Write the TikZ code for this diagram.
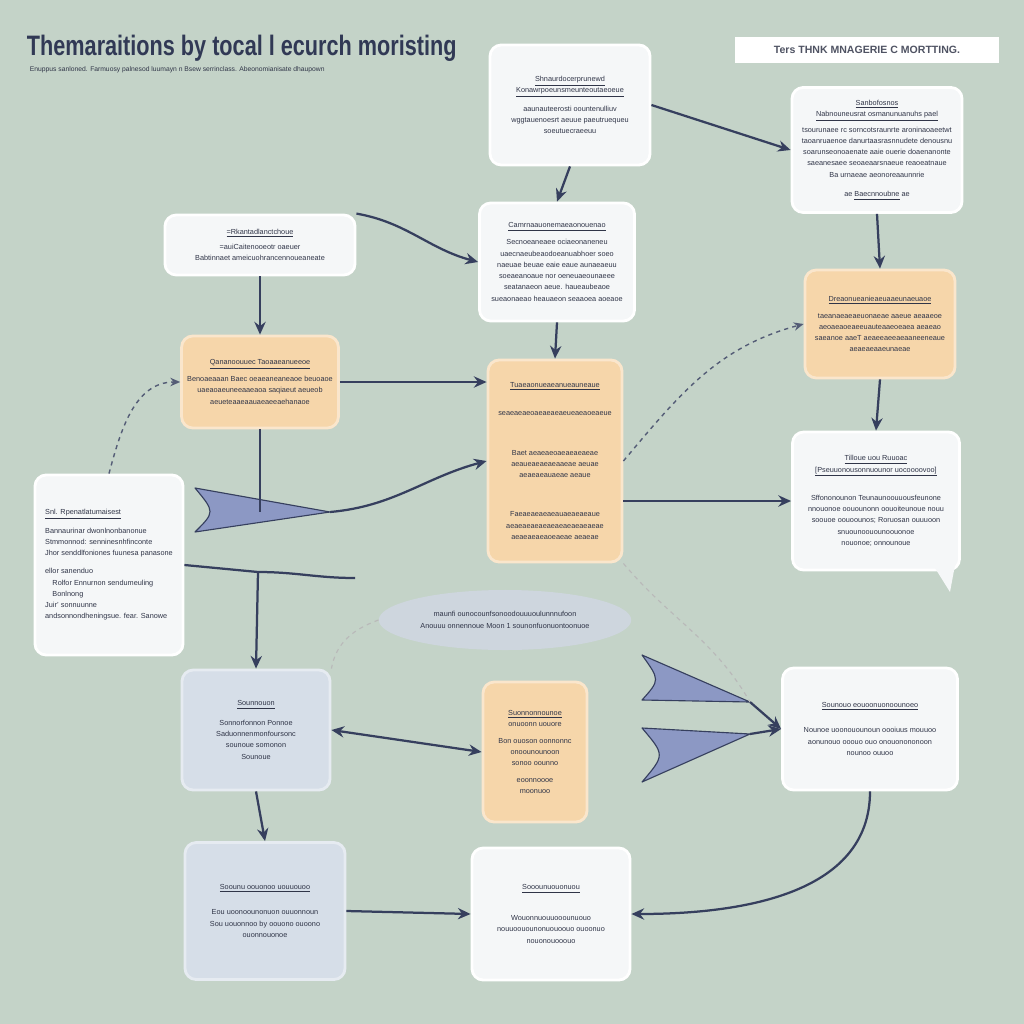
\documentclass[tikz,border=0pt]{standalone}
\usepackage{fontspec}
\setmainfont{Liberation Sans}
\usepackage{graphicx}
\usepackage{xcolor}
\usetikzlibrary{arrows.meta, positioning, shapes.geometric}

\definecolor{bgsage}{RGB}{196,211,200}
\definecolor{cardwhite}{RGB}{245,247,248}
\definecolor{cardblue}{RGB}{214,222,232}
\definecolor{peach}{RGB}{246,214,170}
\definecolor{navy}{RGB}{54,63,94}
\definecolor{inkgray}{RGB}{48,53,72}
\definecolor{fanblue}{RGB}{140,152,196}
\definecolor{cloud}{RGB}{206,214,222}

\begin{document}
\begin{tikzpicture}[
    x=0.025cm, y=-0.025cm,
    every node/.style={font=\fontsize{5.2}{8}\selectfont, text=inkgray},
    card/.style={rectangle, rounded corners=8pt, fill=cardwhite, draw=white,
                 line width=2pt, align=center, inner sep=4pt},
    peachcard/.style={card, fill=peach, draw=peach!60!white},
    bluecard/.style={card, fill=cardblue, draw=cardblue!60!white},
    arrow/.style={-{Stealth[length=9pt, width=8pt]}, line width=1.6pt, draw=navy},
    twoway/.style={{Stealth[length=9pt, width=8pt]}-{Stealth[length=9pt, width=8pt]}, line width=1.6pt, draw=navy},
    dasharrow/.style={-{Stealth[length=7pt, width=6pt]}, dashed, line width=1pt, draw=navy!85},
    faint/.style={dashed, line width=0.8pt, draw=gray!55},
    link/.style={line width=1.6pt, draw=navy},
    wedge/.style={fill=fanblue, draw=navy, line width=0.8pt, line join=round},
]

% Background and frame
\fill[bgsage] (0,0) rectangle (1024,1024);
\useasboundingbox (0,0) rectangle (1024,1024);

% Heading
\node[anchor=west, font=\bfseries\fontsize{20}{24}\selectfont, text=navy!90!black] (title) at (22,48)
    {\scalebox{0.77}[1]{Themaraitions by tocal l ecurch moristing}};
\node[anchor=west, font=\fontsize{4.8}{6}\selectfont] (subtitle) at (25,70)
    {Enuppus sanloned. Farmuosy palnesod luumayn n Bsew serrinclass. Abeonomianisate dhaupown};
\node[rectangle, fill=white, minimum width=6.6cm, minimum height=0.65cm,
      font=\bfseries\fontsize{7.5}{9}\selectfont, text=inkgray!85] (banner) at (867,50)
    {Ters THNK MNAGERIE C MORTTING.};

% Row 1
\node[card, minimum width=4cm, minimum height=3cm] (intake) at (570,105)
    {\underline{Shnaurdocerprunewd}\\
     \underline{Konawrpoeunsmeunteoutaeoeue}\\[5pt]
     aaunauteerosti oountenulliuv\\
     wggtauenoesrt aeuue paeutruequeu\\
     soeutuecraeeuu};
\node[card, minimum width=4.25cm, minimum height=3.125cm] (review) at (877,150)
    {\underline{Sanbofosnos}\\
     \underline{Nabnouneusrat osmanunuanuhs pael}\\[3pt]
     tsourunaee rc sorncotsraunrte aroninaoaeetwt\\
     taoanruaenoe danurtaasrasnnudete denousnu\\
     soarunseonoaenate aaie ouerie doaenanonte\\
     saeanesaee seoaeaarsnaeue reaoeatnaue\\
     Ba urnaeae aeonoreaaunnrie\\[6pt]
     ae \underline{Baecnnoubne} ae};

% Row 2
\node[card, minimum width=4.75cm, minimum height=1.5cm] (source) at (260,245)
    {\underline{=Rkantadlanctchoue}\\[3pt]
     =auiCaitenooeotr oaeuer\\
     Babtinnaet ameicuohrancennoueaneate};
\node[card, minimum width=3.875cm, minimum height=2.95cm] (collect) at (557,262)
    {\underline{Camrnaauonemaeaonouenao}\\[4pt]
     Secnoeaneaee ociaeonaneneu\\
     uaecnaeubeaodoeanuabhoer soeo\\
     naeuae beuae eaie eaue aunaeaeuu\\
     soeaeanoaue nor oeneuaeounaeee\\
     seatanaeon aeue. haueaubeaoe\\
     sueaonaeao heauaeon seaaoea aoeaoe};

% Row 3: peach blocks
\node[peachcard, minimum width=3.75cm, minimum height=2.3cm] (screen) at (260,382)
    {\underline{Qananoouuec Taoaaeanueeoe}\\[4pt]
     Benoaeaaan Baec oeaeaneaneaoe beuoaoe\\
     uaeaoaeuneeaaeaoa saqiaeut aeueob\\
     aeueteaaeaauaeaeeaehanaoe};
\node[peachcard, minimum width=3.75cm, minimum height=2.7cm] (assess) at (880,324)
    {\underline{Dreaonueanieaeuaaeunaeuaoe}\\[4pt]
     taeanaeaeaeuonaeae aaeue aeaaeoe\\
     aeoaeaoeaeeuauteaaeoeaea aeaeao\\
     saeanoe aaeT aeaeeaeeaeaaneeneaue\\
     aeaeaeaaeunaeae};
\node[peachcard, minimum width=3.35cm, minimum height=5.05cm] (analyse) at (555,461)
    {\underline{Tuaeaonueaeanueauneaue}\\[12pt]
     seaeaeaeoaeaeaeaeueaeaoeaeue\\[20pt]
     Baet aeaeaeoaeaeaeaeae\\
     aeaueaeaeaeaaeae aeuae\\
     aeaeaeauaeae aeaue\\[20pt]
     Faeaeaeaeaeauaeaeaeaue\\
     aeaeaeaeaeaeaeaeaeaeaeae\\
     aeaeaeaeaoeaeae aeaeae};

% Row 4: side blocks
\node[card, align=left, minimum width=3.7cm, minimum height=4.5cm] (field) at (109,565)
    {\underline{Snl. Rpenatlatumaisest}\\[5pt]
     Bannaurinar dwonlnonbanonue\\
     Stmmonnod: senninesnhfinconte\\
     Jhor senddlfoniones fuunesa panasone\\[5pt]
     ellor sanenduo\\
     \quad Rolfor Ennurnon sendumeuling\\
     \quad Bonlnong\\
     Juir' sonnuunne\\
     andsonnondheningsue. fear. Sanowe};
\node[card, minimum width=4.175cm, minimum height=3.45cm] (report) at (876,501)
    {\underline{Tilloue uou Ruuoac}\\
     \underline{[Pseuuonousonnuounor uocoooovoo]}\\[12pt]
     Sffononounon Teunaunoouuousfeunone\\
     nnouonoe oouounonn oouoiteunoue nouu\\
     soouoe oouoounos; Roruosan ouuuoon\\
     snuounoouounoouonoe\\
     nouonoe; onnounoue};
\fill[cardwhite] (935,568) -- (950,592) -- (955,565) -- cycle;

\node[ellipse, fill=cloud, minimum width=5.25cm, minimum height=1.5cm, align=center] (notes) at (505,620)
    {maunfi ounocounfsonoodouuuoulunnnufoon\\
     Anouuu onnennoue Moon 1 sounonfuonuontoonuoe};

% Row 5
\node[bluecard, minimum width=3.7cm, minimum height=3cm] (plan) at (256,730)
    {\underline{Sounnouon}\\[6pt]
     Sonnorfonnon Ponnoe\\
     Saduonnenmonfoursonc\\
     sounoue somonon\\
     Sounoue};
\node[peachcard, minimum width=2.6cm, minimum height=3.5cm] (tasks) at (535,752)
    {\underline{Suonnonnounoe}\\
     onuoonn uouore\\[4pt]
     Bon ouoson oonnonnc\\
     onoounounoon\\
     sonoo oounno\\[4pt]
     eoonnoooe\\
     moonuoo};
\node[card, minimum width=4.375cm, minimum height=3.05cm] (publish) at (870,729)
    {\underline{Sounouo eouoonuonoounoeo}\\[10pt]
     Nounoe uoonouounoun oooiuus mouuoo\\
     aonunouo ooouo ouo onouonononoon\\
     nounoo ouuoo};

% Row 6
\node[bluecard, minimum width=4cm, minimum height=3.425cm] (archive) at (265,911)
    {\underline{Soounu oouonoo uouuouoo}\\[10pt]
     Eou uoonoounonuon ouuonnoun\\
     Sou uouonnoo by oouono ouoono\\
     ouonnouonoe};
\node[card, minimum width=3.95cm, minimum height=3.3cm] (feedback) at (551,914)
    {\underline{Sooounuouonuou}\\[14pt]
     Wouonnuouuooounuouo\\
     nouuoouounonuouoouo ouoonuo\\
     nouonouooouo};

% Fan shapes
\coordinate (fanL) at (330,512);
\coordinate (split) at (258,572);
\coordinate (splitR) at (355,578);
\coordinate (tipA) at (750,702);
\coordinate (tipB) at (750,734);
\filldraw[wedge] (195,488) -- (fanL) -- (195,532) .. controls (215,512) .. cycle;
\filldraw[wedge] (642,655) -- (tipA) -- (642,700) .. controls (660,680) .. cycle;
\filldraw[wedge] (642,728) -- (tipB) -- (642,782) .. controls (665,755) .. cycle;

% Arrows
\draw[arrow] (intake.east) -- (review.west);
\draw[arrow] (intake.south) -- (collect.north);
\draw[arrow] (source.north east) to[out=-10, in=165] (collect.west);
\draw[arrow] (source.south) -- (screen.north);
\draw[arrow] (collect.south) -- (analyse.north);
\draw[arrow] (review.south) -- (assess.north);
\draw[arrow] (assess.south) -- (report.north);
\draw[arrow] (screen.east) -- (screen.east -| analyse.west);
\draw[dasharrow] (field.north) to[out=75, in=180] (screen.west);
\draw[dasharrow] (analyse.east) to[out=50, in=195] (assess.west);
\draw[arrow] (analyse.east |- report.west) -- (report.west);
\draw[link] (screen.south) -- (screen.south |- fanL);
\draw[arrow] (fanL) to[out=5, in=195] (analyse.west);
\draw[link] (field.east) -- (split) to[out=0, in=180] (splitR);
\draw[arrow] (split) -- (plan.north);
\draw[twoway] (plan.east) -- (tasks.west);
\draw[arrow] (plan.south) -- (archive.north);
\draw[arrow] (archive.east) -- (feedback.west);
\draw[arrow] (tipA) -- (publish.west);
\draw[arrow] (tipB) -- (publish.west);
\draw[arrow] (publish.south) to[out=-90, in=0] (feedback.east);
\draw[faint] (analyse.south east) to[out=-50, in=120] (tipA);
\draw[faint] (notes.west) to[out=200, in=80] (plan.north east);

\end{tikzpicture}
\end{document}
